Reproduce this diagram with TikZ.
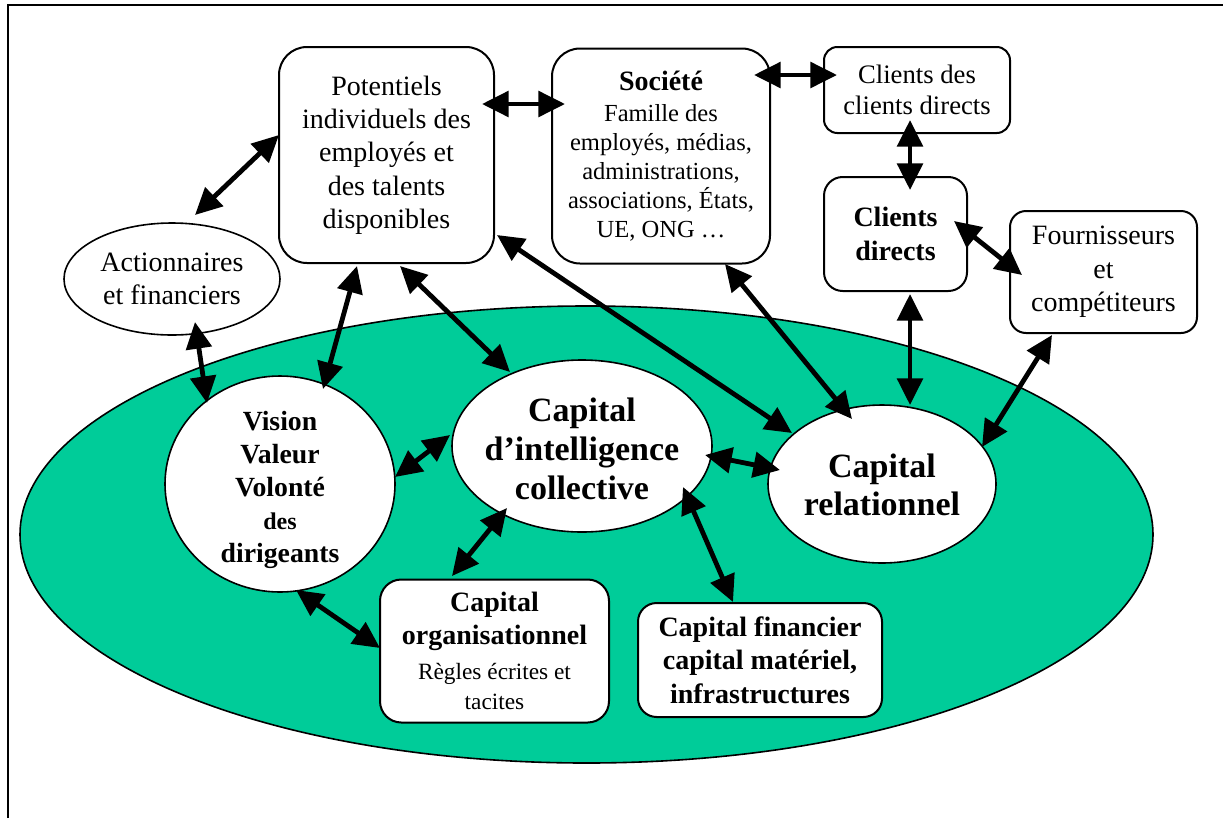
\documentclass[tikz,border=0pt]{standalone}
\usepackage{fontspec}
\setmainfont{Liberation Serif}
\usetikzlibrary{shapes.geometric,arrows.meta,calc}
\definecolor{sea}{RGB}{0,204,153}
\begin{document}
\begin{tikzpicture}[x=0.75pt,y=-0.75pt,
  box/.style={draw, line width=1.5pt, fill=white, rounded corners=#1, align=center, inner sep=0pt},
  box/.default=14pt,
  ell/.style={draw, ellipse, fill=white, line width=1.2pt, inner sep=0pt},
  txt/.style={align=center, inner sep=0pt},
  fmain/.style={font=\fontsize{21}{25}\selectfont},
  fbold/.style={font=\bfseries\fontsize{21}{25}\selectfont},
  fbig/.style={font=\bfseries\fontsize{25.5}{29}\selectfont},
  dbl/.style={line width=3.6pt, {Triangle[length=20pt,width=19pt]}-{Triangle[length=20pt,width=19pt]}}
]
\useasboundingbox (0,0) rectangle (1223,818);
% frame
\draw[line width=1.5pt] (7.5,818) -- (7.5,4.5) -- (1223,4.5);
% big green ellipse
\node[draw, ellipse, fill=sea, line width=1.2pt, inner sep=0pt, minimum width=849.75pt, minimum height=342.75pt] (org) at (586.5,534.5) {};

% boxes
\node[box=21pt, fmain, minimum width=161.25pt, minimum height=162pt] (pot) at (386.5,155)
  {Potentiels\\individuels des\\employés et\\des talents\\disponibles};
\node[box=21pt, font=\fontsize{18.4}{21.75}\selectfont, minimum width=163.5pt, minimum height=161.25pt] (soc) at (661,156)
  {{\bfseries\fontsize{21}{25}\selectfont Société}\\[1pt]Famille des\\employés, médias,\\administrations,\\associations, États,\\UE, ONG …};
\node[box=10pt, font=\fontsize{20}{23.25}\selectfont, minimum width=139.5pt, minimum height=64.5pt] (ccd) at (917,90)
  {Clients des\\clients directs};
\node[box=14pt, fbold, minimum width=107.25pt, minimum height=85.5pt] (cd) at (895.5,234)
  {Clients\\directs};
\node[box=12pt, fmain, minimum width=140.25pt, minimum height=91.5pt] (fou) at (1103.5,272)
  {Fournisseurs\\et\\compétiteurs};
\node[box=16pt, fbold, minimum width=171.75pt, minimum height=107.25pt] (corg) at (494.5,651)
  {Capital\\organisationnel\\[1pt]{\mdseries\fontsize{17.5}{21}\selectfont Règles écrites et}\\[-2pt]{\mdseries\fontsize{17.5}{21}\selectfont tacites}};
\node[box=14pt, fbold, minimum width=183pt, minimum height=85.5pt] (cfin) at (760,660)
  {Capital financier\\capital matériel,\\infrastructures};

% ellipses
\node[ell, minimum width=162pt, minimum height=84pt] (act) at (172,279) {};
\node[txt, fmain] (actt) at (act) {Actionnaires\\et financiers};
\node[ell, minimum width=172.5pt, minimum height=162pt] (vis) at (280,484) {};
\node[txt, font=\bfseries\fontsize{20.8}{24.75}\selectfont] (vist) at (280,490)
  {Vision\\Valeur\\Volonté\\{\fontsize{18}{24.75}\selectfont des}\\dirigeants};
\node[ell, minimum width=195pt, minimum height=129pt] (cic) at (582,446) {};
\node[txt, fbig] (cict) at (582,449) {Capital\\d’intelligence\\collective};
\node[ell, minimum width=171pt, minimum height=118.5pt] (cr) at (882,484) {};
\node[txt, fbig] (crt) at (882,485) {Capital\\relationnel};

% connectors
\draw[dbl] ($(act)+(23,-64)$) -- ($(pot)+(-107.5,-20)$);
\draw[dbl] ($(pot)+(95.5,-51)$) -- ($(soc)+(-96,-52)$);
\draw[dbl] ($(soc)+(93,-81)$) -- ($(ccd)+(-80,-15)$);
\draw[dbl] ($(ccd)+(-7,30)$) -- ($(cd)+(14.5,-44)$);
\draw[dbl] ($(cd)+(58.5,-13)$) -- ($(fou)+(-81.5,3)$);
\draw[dbl] ($(cd)+(14.5,60)$) -- ($(cr)+(28,-79)$);
\draw[dbl] ($(fou)+(-51.5,63)$) -- ($(cr)+(100,-37)$);
\draw[dbl] ($(soc)+(64,108)$) -- ($(cr)+(-30,-65)$);
\draw[dbl] ($(pot)+(110.5,80)$) -- ($(cr)+(-90,-51)$);
\draw[dbl] ($(pot)+(-29.5,111)$) -- ($(vis)+(43,-95)$);
\draw[dbl] ($(pot)+(13.5,111)$) -- ($(cic)+(-72,-74)$);
\draw[dbl] ($(act)+(23,43)$) -- ($(vis)+(-73,-81)$);
\draw[dbl] ($(vis)+(115,-7)$) -- ($(cic)+(-132,-11)$);
\draw[dbl] ($(cic)+(123,9)$) -- ($(cr)+(-102,-14)$);
\draw[dbl] ($(cic)+(-75,62)$) -- ($(corg)+(-42.5,-75)$);
\draw[dbl] ($(vis)+(16,106)$) -- ($(corg)+(-114.5,-3)$);
\draw[dbl] ($(cic)+(101,41)$) -- ($(cfin)+(-27,-58)$);
\end{tikzpicture}
\end{document}
